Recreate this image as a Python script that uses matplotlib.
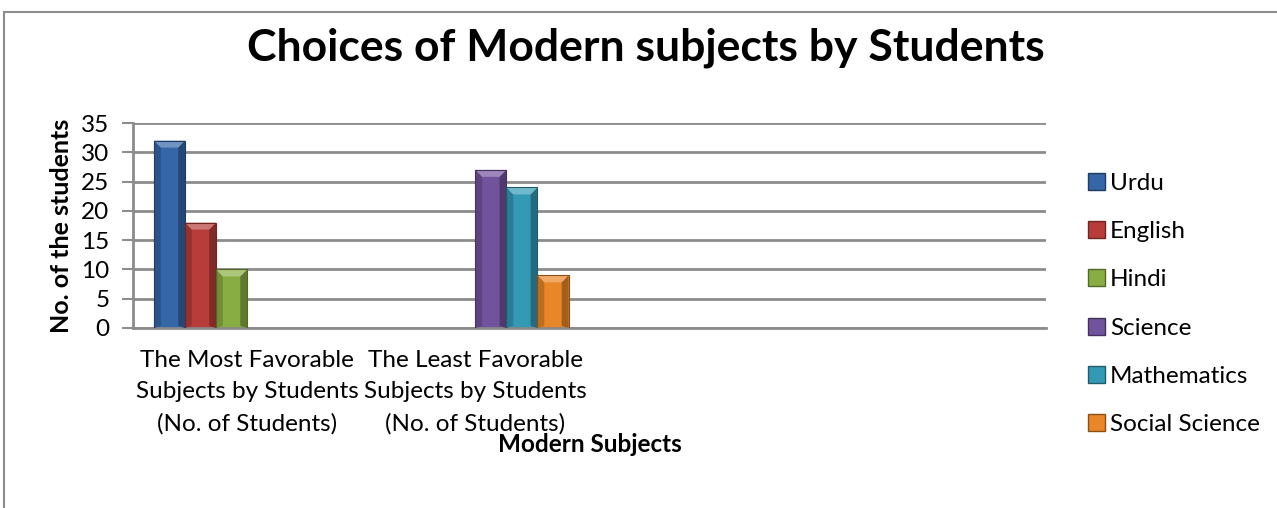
import matplotlib

matplotlib.use('Agg')

import matplotlib.pyplot as plt
import numpy as np
from matplotlib.patches import Patch, Polygon, Rectangle
from matplotlib.colors import to_rgb

nan = np.nan

categories = [
    "The Most Favorable\nSubjects by Students\n(No. of Students)",
    "The Least Favorable\nSubjects by Students\n(No. of Students)",
    "",
    "",
]

series_names = ["Urdu", "English", "Hindi", "Science", "Mathematics", "Social Science"]
urdu = [32, nan, nan, nan]
english = [18, nan, nan, nan]
hindi = [10, nan, nan, nan]
science = [nan, 27, nan, nan]
mathematics = [nan, 24, nan, nan]
social_science = [nan, 9, nan, nan]

y_ticks = [0, 5, 10, 15, 20, 25, 30, 35]

COLORS = ["#3566A8", "#B83D3A", "#88AE43", "#71529C", "#3399B5", "#E98627"]
FONT = "Lato"
FS = 17.5


def shade(color, k):
    r, g, b = to_rgb(color)
    if k < 1:
        return (r * k, g * k, b * k)
    t = k - 1
    return (r + (1 - r) * t, g + (1 - g) * t, b + (1 - b) * t)


def bevel_bar(ax, patch, color, bx, by):
    """Paint an Excel-like bevelled face over a plain bar."""
    x0, y0 = patch.get_x(), patch.get_y()
    w, h = patch.get_width(), patch.get_height()
    if not np.isfinite(h) or h <= 0:
        return
    x1, y1 = x0 + w, y0 + h
    bx = min(bx, w / 2)
    by = min(by, h / 2)
    # left and right darker side strips
    ax.add_patch(Polygon([(x0, y0), (x0 + bx, y0 + by * 0.3), (x0 + bx, y1 - by), (x0, y1)],
                         closed=True, facecolor=shade(color, 0.82), edgecolor='none', zorder=3))
    ax.add_patch(Polygon([(x1, y0), (x1 - bx, y0 + by * 0.3), (x1 - bx, y1 - by), (x1, y1)],
                         closed=True, facecolor=shade(color, 0.7), edgecolor='none', zorder=3))
    # lighter top bevel
    ax.add_patch(Polygon([(x0, y1), (x1, y1), (x1 - bx, y1 - by), (x0 + bx, y1 - by)],
                         closed=True, facecolor=shade(color, 1.3), edgecolor='none', zorder=3))
    ax.add_patch(Rectangle((x0, y0), w, h, facecolor='none',
                           edgecolor=shade(color, 0.6), linewidth=0.8, zorder=4))


plt.rcParams.update({
    'font.family': [FONT, 'DejaVu Sans'],
    'font.size': FS,
})

fig = plt.figure(figsize=(12.77, 5.08), dpi=100)
fig.patch.set_facecolor('white')

# chart frame
fig.add_artist(Rectangle((4 / 1277, -0.2), 1.2, 0.2 + 1 - 12 / 508,
                         transform=fig.transFigure, facecolor='none',
                         edgecolor='#8C8C8C', linewidth=1.5, zorder=0))

ax = fig.add_axes([133 / 1277, 1 - 328 / 508, (1046 - 133) / 1277, (328 - 123) / 508])

values = [urdu, english, hindi, science, mathematics, social_science]
x = np.arange(len(categories))
n = len(values)
bw = 1 / (n + 1.35)

for j, (name, vals, col) in enumerate(zip(series_names, values, COLORS)):
    bars = ax.bar(x + (j - (n - 1) / 2) * bw, vals, width=bw, color=col,
                  edgecolor='none', zorder=2, label=name)
    for p in bars.patches:
        bevel_bar(ax, p, col, bw * 0.22, 35 * 7 / 205)

ax.set_xlim(-0.5, len(categories) - 0.5)
ax.set_ylim(0, 35)
ax.set_yticks(y_ticks)
ax.set_xticks(x)
ax.set_xticklabels(categories, fontsize=FS, linespacing=1.6)
ax.tick_params(axis='x', length=0, pad=16)
ax.tick_params(axis='y', length=8, width=1.5, color='#8C8C8C', labelsize=FS, pad=9)

ax.grid(axis='y', color='#8C8C8C', linewidth=2, zorder=0)
ax.set_axisbelow(True)
for s in ['top', 'right']:
    ax.spines[s].set_visible(False)
for s in ['left', 'bottom']:
    ax.spines[s].set_color('#8C8C8C')
    ax.spines[s].set_linewidth(2)

ax.set_ylabel("No. of the students", fontsize=FS + 0.5, fontweight='bold', labelpad=6)
fig.text(590 / 1277, 1 - 444 / 508, "Modern Subjects", fontsize=FS,
         fontweight='bold', ha='center', va='center')
fig.text(646 / 1277, 1 - 48 / 508, "Choices of Modern subjects by Students",
         fontsize=32, fontweight='bold', ha='center', va='center')

handles = [Patch(facecolor=c, edgecolor=shade(c, 0.6), label=nm)
           for nm, c in zip(series_names, COLORS)]
ax.legend(handles=handles, loc='center left', bbox_to_anchor=(1066 / 1277, 1 - 304 / 508),
          bbox_transform=fig.transFigure, frameon=False, fontsize=FS,
          handlelength=0.7, handleheight=0.7, handletextpad=0.2, labelspacing=1.12)

fig.savefig('out.png', dpi=100, facecolor='white')
